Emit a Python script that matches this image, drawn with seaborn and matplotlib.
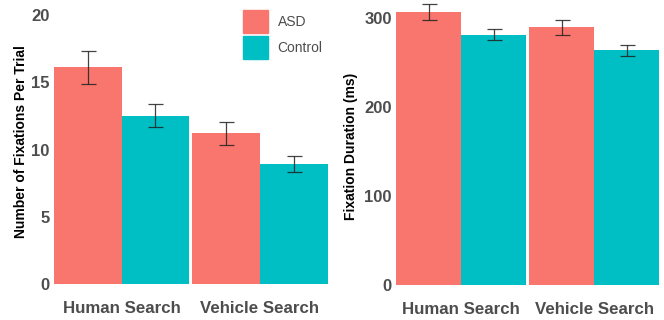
import matplotlib
matplotlib.use("Agg")
import matplotlib.pyplot as plt
import seaborn as sns
import pandas as pd

# Group means and standard errors per search task
tasks = ["Human Search", "Vehicle Search"]
groups = ["ASD", "Control"]

fix_count_asd = [16.1, 11.2]
fix_count_ctl = [12.5, 8.9]
fix_count_se_asd = [1.23, 0.87]
fix_count_se_ctl = [0.85, 0.60]

fix_dur_asd = [307, 290]
fix_dur_ctl = [281.5, 264]
fix_dur_se_asd = [9.0, 8.5]
fix_dur_se_ctl = [6.0, 6.0]

palette = {"ASD": "#F8766D", "Control": "#00BFC4"}

sns.set_theme(style="white")
plt.rcParams["font.family"] = ["Liberation Sans", "DejaVu Sans"]


def make_frame(asd, ctl, se_asd, se_ctl):
    rows = []
    for t, m, s in zip(tasks, asd, se_asd):
        rows.append({"task": t, "group": "ASD", "mean": m, "se": s})
    for t, m, s in zip(tasks, ctl, se_ctl):
        rows.append({"task": t, "group": "Control", "mean": m, "se": s})
    return pd.DataFrame(rows)


def draw_panel(ax, df, ylim, yticks, ylabel, label_xy):
    sns.barplot(data=df, x="task", y="mean", hue="group", order=tasks,
                hue_order=groups, palette=palette, errorbar=None,
                width=0.975, saturation=1, linewidth=0, ax=ax, legend=False)
    for container, g in zip(ax.containers, groups):
        sub = df[df["group"] == g].set_index("task").loc[tasks]
        xs = [b.get_x() + b.get_width() / 2 for b in container]
        ax.errorbar(xs, sub["mean"], yerr=sub["se"], fmt="none",
                    ecolor="#222222", elinewidth=0.9, capsize=5.4,
                    capthick=0.9, alpha=0.85)
    ax.set_xlim(-0.5, 1.5)
    ax.set_ylim(*ylim)
    ax.set_yticks(yticks)
    ax.set_xlabel("")
    ax.set_ylabel(ylabel, fontsize=10, fontweight="bold", color="black")
    ax.yaxis.set_label_coords(*label_xy)
    for s in ax.spines.values():
        s.set_visible(False)
    ax.grid(False)
    ax.tick_params(axis="y", length=0, pad=2, labelsize=12,
                   labelcolor="#4d4d4d")
    ax.tick_params(axis="x", length=0, pad=12, labelsize=12.2,
                   labelcolor="#4d4d4d")
    for lab in ax.get_xticklabels() + ax.get_yticklabels():
        lab.set_fontweight("bold")


fig = plt.figure(figsize=(6.64, 3.2), dpi=100)
W, H = 664, 320
ax1 = fig.add_axes([52.25 / W, 36 / H, 277 / W, 275.7 / H])
ax2 = fig.add_axes([394.7 / W, 35 / H, 266 / W, 282.7 / H])

df1 = make_frame(fix_count_asd, fix_count_ctl, fix_count_se_asd, fix_count_se_ctl)
df2 = make_frame(fix_dur_asd, fix_dur_ctl, fix_dur_se_asd, fix_dur_se_ctl)

draw_panel(ax1, df1, (0, 20.5), [0, 5, 10, 15, 20],
           "Number of Fixations Per Trial", (-0.0875, 0.517))
draw_panel(ax2, df2, (0, 318), [0, 100, 200, 300],
           "Fixation Duration (ms)", (-0.138, 0.49))

handles = [plt.Rectangle((0, 0), 1, 1, color=palette[g]) for g in groups]
fig.legend(handles, groups, loc="upper left",
           bbox_to_anchor=(243 / W, 1 - 10 / H), frameon=False, fontsize=10,
           handlelength=1.8, handleheight=2.15, labelspacing=0.25,
           handletextpad=0.7, borderpad=0, borderaxespad=0,
           labelcolor="#4d4d4d")

fig.savefig("out.png", dpi=100)
